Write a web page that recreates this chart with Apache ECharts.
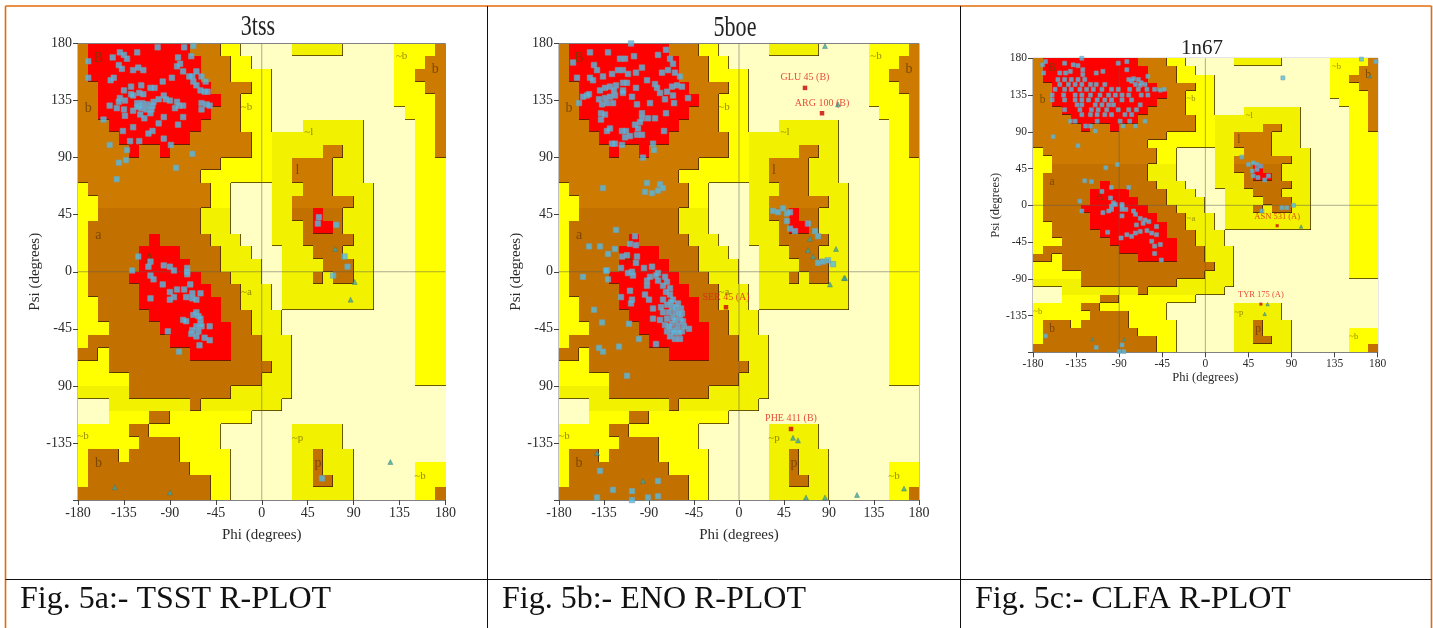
<!DOCTYPE html>
<html><head><meta charset="utf-8"><title>Ramachandran plots</title>
<style>html,body{margin:0;padding:0;background:#fff}#c{width:1433px;height:628px}</style>
<script src="https://cdn.jsdelivr.net/npm/echarts@6/dist/echarts.min.js"></script></head>
<body><div id="c"></div>
<script>
// Region map: 36 rows (psi 180 down to -180), 10 degree cells, run-length coded per row
const regionRuns = [
"B1 R10 B3 Y2 P5 O5 P5 Y4 B1","B1 R11 B3 Y2 P14 Y3 B2","B1 R11 B3 Y4 P12 Y2 B3","B2 R11 B4 Y2 P12 Y3 B2",
"B2 R12 B2 Y3 P12 Y4 B1","B2 R11 B3 Y3 P13 Y3 B1","B3 R9 B4 Y3 P3 O6 P5 Y2 B1","B4 R7 B6 Y2 O9 P5 Y2 B1",
"B5 R1 B2 R1 B8 Y2 O5 B2 O2 P5 Y2 B1","B14 Y5 O2 B4 O3 P5 Y3","B12 Y7 O2 B4 O3 P5 Y3","Y1 B12 Y2 P4 O3 B3 O4 P4 Y3",
"Y2 B11 Y2 P4 O2 B6 O2 P4 Y3","Y2 B10 O3 P4 O2 B2 R1 B2 O3 P4 Y3","Y1 B11 O3 P4 O3 B1 R2 B1 O3 P4 Y3","Y1 B6 R1 B5 O3 P3 O3 B5 O2 P4 Y3",
"Y1 B5 R4 B4 O3 P3 O3 B3 O3 P4 Y3","Y1 B5 R5 B3 O4 P2 O4 B3 O2 P4 Y3","Y1 B4 R7 B3 O3 P2 O3 B1 O1 B2 O2 P4 Y3","Y1 B5 R7 B3 O3 P1 O9 P4 Y3",
"Y2 B4 R8 B2 O3 P1 O9 P4 Y3","Y2 B5 R7 B3 O3 P13 Y3","Y3 B5 R7 B2 O3 P13 Y3","Y1 B8 R6 B3 O3 P12 Y3",
"B2 Y1 B8 R4 B3 O3 P12 Y3","Y3 B16 O2 P12 Y3","Y5 B13 O3 P12 Y3","O5 B10 O6 P15",
"P3 O8 B1 O8 P16","P3 Y4 B2 Y8 P19","Y5 B2 Y7 P7 O5 P10","Y6 B4 Y4 P7 O5 P10",
"Y1 B3 Y1 B5 Y5 P6 O2 B1 O3 P9","Y1 B10 Y4 P6 O2 B1 O3 P6 Y3","Y1 B12 Y2 P6 O2 B2 O2 P6 Y3","B13 Y2 P6 O6 P6 Y2 B1"];

const phiTicks = ['-180','-135','-90','-45','0','45','90','135','180'];
const psiTicksAB = ['','-135','90','-45','0','45','90','135','180'];
const psiTicksC = ['','-135','-90','-45','0','45','90','135','180'];
const regionLabels = [[-160,168,'B'],[-170,129,'b'],[-160,29,'a'],[-110,10,'A'],[-15,130,'~b'],[46,110,'~l'],[35,80,'l'],[137,170,'~b'],[170,160,'b'],[-15,-16,'~a'],[-175,-130,'~b'],[-160,-151,'b'],[35,-131,'~p'],[55,-151,'p'],[155,-161,'~b']];

const tssSquares = [[-170,166],[-170,153],[-146,169],[-139,173],[-135,171],[-132,168],[-122,173],[-102,177],[-76,177],[-67,178],[-69,170],[-82,169],[-80,164],[-83,162],[-77,158],[-88,153],[-140,163],[-137,160],[-145,153],[-148,151],[-126,159],[-121,161],[-116,159],[-97,150],[-71,154],[-68,154],[-64,158],[-59,154],[-67,150],[-64,147],[-55,150],[-60,143],[-56,142],[-53,142],[-128,146],[-118,147],[-135,143],[-109,145],[-105,145],[-128,140],[-126,139],[-120,141],[-116,140],[-139,137],[-140,134],[-134,135],[-149,131],[-122,133],[-120,131],[-117,133],[-112,132],[-106,134],[-101,136],[-96,139],[-94,136],[-90,135],[-83,134],[-81,131],[-77,131],[-85,129],[-59,133],[-54,132],[-51,131],[-59,128],[-142,129],[-135,128],[-126,127],[-122,130],[-118,129],[-113,128],[-107,131],[-108,128],[-109,125],[-119,124],[-115,121],[-134,123],[-96,122],[-77,122],[-155,120],[-101,117],[-82,116],[-126,114],[-136,111],[-107,111],[-111,109],[-96,105],[-120,103],[-129,103],[-149,100],[-89,100],[-132,96],[-68,93],[-133,88],[-140,86],[-84,82],[-142,73],
[56,43],[55,38],[73,37],[81,12],[84,4],[-121,12],[-127,1],[-109,8],[-111,4],[-96,5],[-90,4],[-86,1],[-73,3],[-73,0],[-109,-3],[-106,-6],[-73,-2],[-97,-10],[-70,-10],[-90,-16],[-83,-14],[-76,-14],[-68,-17],[-60,-17],[-86,-20],[-90,-22],[-74,-20],[-68,-21],[-64,-22],[-109,-21],[-67,-34],[-64,-32],[-62,-35],[-60,-37],[-77,-38],[-74,-39],[-60,-41],[-59,-43],[-51,-43],[-64,-43],[-68,-46],[-69,-49],[-62,-47],[-64,-51],[-56,-52],[-51,-54],[-92,-47],[-61,-58],[-81,-63],[70,-3],[59,-163]];
const tssTriangles = [[72,18],[91,-8],[87,-22],[126,-150],[-144,-170],[-90,-174]];

const enoSquares = [[-108,180],[-149,173],[-131,173],[-73,175],[-166,165],[-162,153],[-145,163],[-142,159],[-119,168],[-114,168],[-105,170],[-81,171],[-69,168],[-66,164],[-121,159],[-116,159],[-111,156],[-97,161],[-103,157],[-127,156],[-136,154],[-149,153],[-146,151],[-77,157],[-71,159],[-64,157],[-59,154],[-92,151],[-84,148],[-116,149],[-112,149],[-103,145],[-123,147],[-129,146],[-134,145],[-139,143],[-125,143],[-116,143],[-82,145],[-67,146],[-62,147],[-57,146],[-72,142],[-66,139],[-51,137],[-152,139],[-156,138],[-150,140],[-160,133],[-140,136],[-134,137],[-129,138],[-124,139],[-137,132],[-132,133],[-126,133],[-116,141],[-107,138],[-102,132],[-89,133],[-79,141],[-74,136],[-65,133],[-73,125],[-138,125],[-134,124],[-138,120],[-97,125],[-97,121],[-91,121],[-84,121],[-99,118],[-104,116],[-101,113],[-129,113],[-132,111],[-117,111],[-113,111],[-114,106],[-102,108],[-97,108],[-109,107],[-75,111],[-127,101],[-124,101],[-117,100],[-86,101],[-85,96],[-96,90],
[-136,66],[-92,70],[-79,69],[-76,66],[-94,63],[-87,62],[-81,64],[-123,33],[-150,20],[-139,20],[-124,18],[-131,14],[-104,28],[-103,21],[-109,22],[-117,12],[-112,13],[-102,12],[-132,1],[-118,3],[-95,3],[-87,4],[-103,7],[-107,0],[-81,-1],[-74,-4],
[34,48],[39,47],[44,50],[48,46],[51,47],[48,40],[51,34],[56,32],[69,38],[76,32],[79,28],[79,7],[84,8],[89,9],[94,6],
[-156,-4],[-131,-6],[-133,1],[-111,-1],[-106,-3],[-92,-7],[-89,-4],[-83,-3],[-81,-7],[-76,-11],[-72,-8],[-69,-13],[-92,-11],[-109,-15],[-118,-20],[-107,-22],[-108,-25],[-94,-18],[-90,-22],[-86,-29],[-76,-22],[-69,-18],[-66,-22],[-61,-25],[-72,-26],[-67,-28],[-58,-29],[-76,-32],[-64,-32],[-57,-33],[-86,-37],[-79,-38],[-72,-37],[-66,-36],[-59,-37],[-56,-39],[-74,-42],[-67,-41],[-61,-42],[-50,-45],[-72,-47],[-67,-46],[-62,-46],[-57,-47],[-69,-51],[-64,-53],[-59,-53],[-83,-57],[-100,-53],[-110,-41],[-137,-40],[-145,-30],[-120,-59],[-140,-60],[-136,-63],[-112,-82],[-70,-32],[-63,-28],[-60,-33],[-68,-24],[-64,-38],[-70,-43],[-60,-48],[-65,-48],[-55,-43],[-78,-28],[-73,-16],
[-139,-157],[-81,-165],[-126,-172],[-107,-173],[-142,-178],[-107,-180],[-91,-178],[-81,-177]];
const enoTriangles = [[86,178],[99,132],[71,26],[69,17],[97,18],[74,12],[106,-5],[91,-10],[105,-5],[54,-131],[59,-133],[-142,-143],[-96,-165],[67,-178],[86,-178],[118,-176],[165,-171]];
const enoOutliers = [[66,145,'GLU 45 (B)'],[83,125,'ARG 100 (B)'],[-13,-28,'SER 45 (A)'],[52,-124,'PHE 411 (B)']];

const clfaSquares = [[-129,180],[-167,176],[-170,172],[-147,174],[-138,172],[-133,171],[-128,166],[-82,176],[-91,174],[-82,166],[-141,164],[-152,162],[-146,162],[-114,162],[-107,164],[-128,160],[-169,162],[-77,152],[-70,154],[-60,158],
[-154,154],[-147,154],[-140,154],[-133,154],[-126,154],[-80,154],[-75,155],[-67,150],[-152,148],[-143,148],[-136,148],[-129,148],[-120,148],[-114,148],[-105,148],[-73,148],[-68,147],[-63,148],[-157,142],[-147,142],[-140,142],[-131,142],[-124,142],[-117,142],[-108,142],[-98,142],[-91,142],[-79,142],[-70,142],[-61,142],[-53,142],[-47,141],[-43,142],[-160,135],[-148,135],[-136,135],[-129,135],[-120,135],[-110,135],[-101,135],[-94,135],[-87,135],[-80,135],[-67,135],[-60,135],[-160,129],[-147,129],[-136,129],[-129,129],[-122,129],[-113,129],[-105,129],[-98,129],[-87,129],[-77,129],[-134,123],[-129,123],[-115,123],[-108,123],[-101,123],[-96,123],[-68,123],[-147,117],[-131,117],[-119,117],[-112,117],[-103,117],[-91,117],[-80,117],[-72,117],[-129,111],[-120,111],[-113,111],[-105,111],[-98,111],[-84,111],[-77,111],[-141,103],[-136,103],[-113,103],[-89,103],[-79,103],[-63,103],[-125,97],[-120,97],[-86,97],[-73,97],[-115,91],[-159,84],[-133,73],
[-104,46],[-92,50],[-126,30],[-119,29],[-80,22],[-98,22],[-108,17],[-131,5],[-99,9],[-96,3],[-98,-1],[-87,1],[-129,-7],[-107,-9],[-98,-5],[-87,-1],[-83,-5],[-75,-7],[-73,-11],[-68,-16],[-63,-18],[-59,-20],[-101,-7],[-87,-5],[-87,-13],[-72,-24],[-65,-22],[-51,-26],[-102,-33],[-82,-36],[-88,-40],[-77,-38],[-73,-34],[-68,-32],[-61,-31],[-56,-34],[-51,-36],[-56,-44],[-53,-50],[-47,-48],[-53,-59],[-46,-67],[-94,1],
[38,59],[45,50],[50,52],[54,50],[58,48],[49,42],[54,44],[50,36],[55,34],[62,31],[66,36],[59,-7],[80,-3],[85,-3],[92,0],[-167,-160],[-114,-174],[-87,-171],[-90,-179],[-85,-179],[81,156],[163,179],[178,176]];
const clfaTriangles = [[100,-26],[65,-121],[62,-133],[172,158],[-118,-164],[-85,-164]];
const clfaOutliers = [[75,-25,'ASN 531 (A)'],[58,-121,'TYR 175 (A)']];

const plots = [
 {title:'3tss',caption:'Fig. 5a:- TSST R-PLOT',squares:tssSquares,triangles:tssTriangles,outliers:[],psi:psiTicksAB},
 {title:'5boe',caption:'Fig. 5b:- ENO R-PLOT',squares:enoSquares,triangles:enoTriangles,outliers:enoOutliers,psi:psiTicksAB},
 {title:'1n67',caption:'Fig. 5c:- CLFA R-PLOT',squares:clfaSquares,triangles:clfaTriangles,outliers:clfaOutliers,psi:psiTicksC,crossPhi:[-90]}
];
const boxes = [
 {left:78,top:43.5,width:367.5,height:456.5,tick:14,name:15,nameGap:28,psiGap:35,ms:5.5,tri:5,label:10,titleX:258,titleY:27,titleSize:29,scaleX:.76,capX:20},
 {left:559,top:43.5,width:360,height:456.5,tick:14,name:15,nameGap:28,psiGap:35,ms:5.5,tri:5,label:10,titleX:735,titleY:28,titleSize:29,scaleX:.76,capX:502},
 {left:1033,top:58.3,width:344.7,height:294,tick:11.5,name:12.5,nameGap:16,psiGap:31,ms:4,tri:3.5,label:8.5,titleX:1202,titleY:48,titleSize:21,scaleX:1,capX:975}
];

const SERIF = '"Liberation Serif","Times New Roman",serif';
const colors = {R:'#ff0000',B:'#cc7a00',Y:'#ffff00',O:'#f2f200',P:'#ffffc4'};
const rank = {R:3,B:2,Y:1,O:1,P:0};
const regionGrid = regionRuns.map(r => r.split(' ').map(t => t[0].repeat(+t.slice(1))).join(''));
const cells = [];
regionGrid.forEach((row,r) => { for (let c=0;c<36;c++) cells.push([-180+c*10,180-r*10,r,c]); });

function renderCell(params, api) {
  const r = api.value(2), c = api.value(3), code = regionGrid[r][c];
  const a = api.coord([api.value(0),api.value(1)]), b = api.coord([api.value(0)+10,api.value(1)-10]);
  const x1=Math.round(a[0]),y1=Math.round(a[1]),x2=Math.round(b[0]),y2=Math.round(b[1]);
  const fill = (code==='B' && r>=13) ? '#c27000' : colors[code];
  const kids = [{type:'rect',shape:{x:x1,y:y1,width:x2-x1,height:y2-y1},style:{fill}}];
  const edge = 'rgba(60,35,0,0.75)';
  if (r<35 && rank[regionGrid[r+1][c]]<rank[code]) kids.push({type:'line',shape:{x1:x1,y1:y2-.5,x2:x2,y2:y2-.5},style:{stroke:edge,lineWidth:1},z2:5});
  if (code!=='R' && c<35 && rank[regionGrid[r][c+1]]<rank[code]) kids.push({type:'line',shape:{x1:x2-.5,y1:y1,x2:x2-.5,y2:y2},style:{stroke:edge,lineWidth:1},z2:5});
  return {type:'group',children:kids};
}

const grid=[],xAxis=[],yAxis=[],series=[],graphic=[];
plots.forEach((p,i) => {
  const g = boxes[i];
  grid.push({left:g.left,top:g.top,width:g.width,height:g.height,show:true,borderColor:'#808080',borderWidth:1,containLabel:false});
  const axisCommon = {type:'value',min:-180,max:180,interval:45,gridIndex:i,splitLine:{show:false},
    axisLine:{onZero:false,lineStyle:{color:'#808080'}},axisTick:{length:5,lineStyle:{color:'#444'}},
    nameLocation:'middle',nameTextStyle:{fontFamily:SERIF,fontSize:g.name,color:'#2a2a2a'}};
  xAxis.push({...axisCommon,name:'Phi (degrees)',nameGap:g.nameGap,
    axisLabel:{fontFamily:SERIF,fontSize:g.tick,color:'#2a2a2a',margin:6,formatter:v=>phiTicks[(v+180)/45]}});
  yAxis.push({...axisCommon,name:'Psi (degrees)',nameGap:g.psiGap,
    axisLabel:{fontFamily:SERIF,fontSize:g.tick,color:'#2a2a2a',margin:6,formatter:v=>p.psi[(v+180)/45]}});
  const idx={xAxisIndex:i,yAxisIndex:i};
  series.push({type:'custom',...idx,renderItem:renderCell,data:cells,silent:true,animation:false,z:1,encode:{x:0,y:1}});
  const guides=[[[0,-180],[0,180]],[[-180,0],[180,0]]].concat((p.crossPhi||[]).map(v=>[[v,-180],[v,180]]));
  guides.forEach(d=>series.push({type:'line',...idx,data:d,symbol:'none',silent:true,animation:false,z:2,lineStyle:{color:'rgba(90,90,90,0.5)',width:1}}));
  series.push({type:'scatter',...idx,symbolSize:1,silent:true,animation:false,z:3,itemStyle:{color:'transparent'},
    data:regionLabels.map(v=>{const minor=v[2][0]==='~';return {value:v,label:{fontSize:minor?g.tick-3:g.tick,color:minor?'#7a7000':'#6a3c00'}};}),
    label:{show:true,position:'inside',formatter:o=>o.value[2],fontFamily:SERIF}});
  series.push({type:'scatter',...idx,data:p.squares,symbol:'rect',symbolSize:g.ms,animation:false,z:4,
    itemStyle:{color:'#50bde8',borderColor:'#7f9aa3',borderWidth:.7}});
  series.push({type:'scatter',...idx,data:p.triangles,symbol:'triangle',symbolSize:g.tri,animation:false,z:4,
    itemStyle:{color:'#3aa6a0',borderColor:'#3d6f78',borderWidth:.5}});
  if (p.outliers.length) series.push({type:'scatter',...idx,data:p.outliers,symbol:'rect',symbolSize:g.ms-1,animation:false,z:5,
    itemStyle:{color:'#cc0000'},labelLayout:{hideOverlap:false},
    label:{show:true,position:'top',distance:3,formatter:o=>o.value[2],fontFamily:SERIF,fontSize:g.label,color:'#e0201a'}});
  graphic.push({type:'text',x:g.titleX,y:g.titleY,scaleX:g.scaleX,style:{text:p.title,font:g.titleSize+'px '+SERIF,fill:'#222',align:'center',verticalAlign:'middle'},z:10});
  graphic.push({type:'text',x:g.capX,y:600,style:{text:p.caption,font:'32px '+SERIF,fill:'#111',verticalAlign:'middle'},z:10});
});
const rule=(x1,y1,x2,y2,stroke,lw)=>({type:'line',shape:{x1,y1,x2,y2},style:{stroke,lineWidth:lw},z:9,silent:true});
graphic.push(rule(5.5,6,1431.5,6,'#e36c0a',1.6),rule(5.5,6,5.5,628,'#e36c0a',1.6),rule(1431.5,6,1431.5,628,'#e36c0a',1.6),
 rule(487.5,6,487.5,628,'#111',1),rule(960.5,6,960.5,628,'#111',1),rule(5.5,579.5,1431.5,579.5,'#111',1));

const chart = echarts.init(document.getElementById('c'),null,{renderer:'canvas'});
chart.setOption({animation:false,backgroundColor:'#fff',grid,xAxis,yAxis,series,graphic});
</script></body></html>
